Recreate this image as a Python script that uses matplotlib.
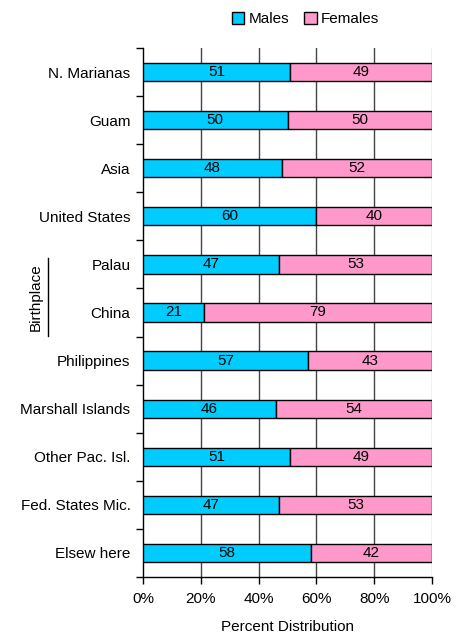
import numpy as np
import matplotlib.pyplot as plt
from matplotlib.lines import Line2D

places = ['N. Marianas', 'Guam', 'Asia', 'United States', 'Palau', 'China',
          'Philippines', 'Marshall Islands', 'Other Pac. Isl.', 'Fed. States Mic.', 'Elsew here']
males = [51, 50, 48, 60, 47, 21, 57, 46, 51, 47, 58]
females = [49, 50, 52, 40, 53, 79, 43, 54, 49, 53, 42]

plt.rcParams['font.family'] = ['Liberation Sans', 'DejaVu Sans']
fs = 11

fig = plt.figure(figsize=(4.66, 6.38), dpi=100)
ax = fig.add_axes([143/466, 1-577/638, 289/466, 529/638])

y = np.arange(len(places))[::-1]
tot = np.array(males) + np.array(females)
m = np.array(males) / tot * 100
f = np.array(females) / tot * 100

ax.barh(y, m, height=0.38, color='#00CCFF', edgecolor='black', linewidth=1, label='Males', zorder=3)
ax.barh(y, f, left=m, height=0.38, color='#FF99CC', edgecolor='black', linewidth=1, label='Females', zorder=3)
for yi, mi, fi, ml, fl in zip(y, m, f, males, females):
    ax.text(mi/2, yi, str(ml), ha='center', va='center', fontsize=fs, zorder=4)
    ax.text(mi + fi/2, yi, str(fl), ha='center', va='center', fontsize=fs, zorder=4)

ax.set_xlim(0, 100)
ax.set_ylim(-0.5, len(places) - 0.5)
ax.set_xticks([0, 20, 40, 60, 80, 100])
ax.set_xticklabels(['0%', '20%', '40%', '60%', '80%', '100%'], fontsize=fs)
ax.set_yticks(y)
ax.set_yticklabels(places, fontsize=fs)
ax.set_yticks(np.arange(-0.5, len(places)), minor=True)
ax.tick_params(axis='y', which='major', length=0, pad=9)
ax.tick_params(axis='y', which='minor', length=5, direction='out', width=1)
ax.tick_params(axis='x', length=5, direction='out', width=1, pad=6)
for xv in [20, 40, 60, 80]:
    ax.axvline(xv, color='#444444', linewidth=1, zorder=1)
ax.axvline(100, color='#bbbbbb', linewidth=1, zorder=1)
for s in ['top', 'right']:
    ax.spines[s].set_visible(False)
ax.spines['left'].set_linewidth(1)
ax.spines['bottom'].set_linewidth(1)

ax.set_xlabel('Percent Distribution', fontsize=fs, labelpad=10)
fig.text(36/466, 1-297/638, 'Birthplace', rotation=90, ha='center', va='center', fontsize=fs)
fig.add_artist(Line2D([48/466, 48/466], [1-336/638, 1-258/638], color='black', linewidth=1))

ax.legend(loc='upper center', bbox_to_anchor=(0.5 + 18/289, 1 + 42/529), ncol=2, frameon=False,
          fontsize=fs, handlelength=0.8, handleheight=0.8, handletextpad=0.3, columnspacing=1.0,
          borderaxespad=0)

fig.savefig('out.png', dpi=100)
